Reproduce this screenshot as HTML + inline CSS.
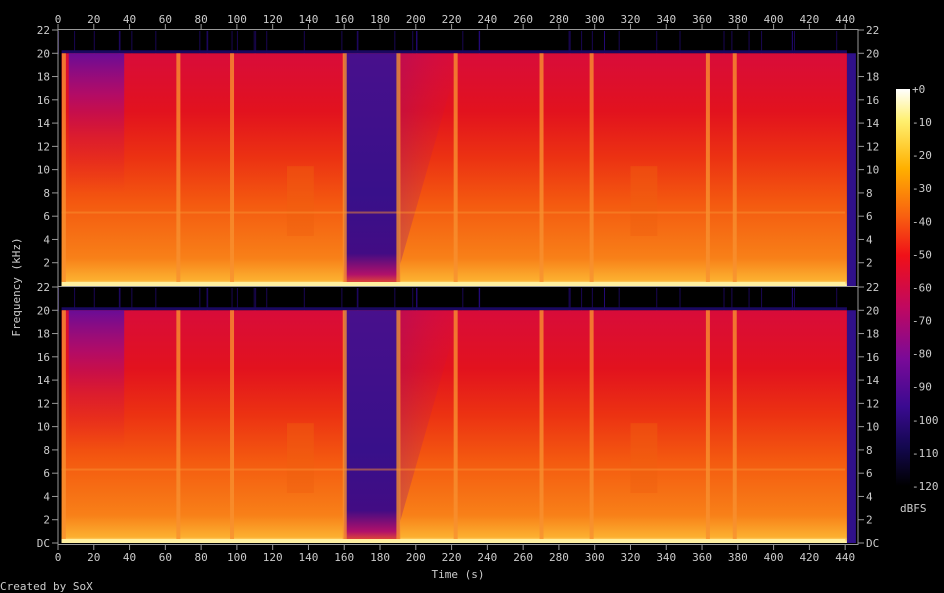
<!DOCTYPE html>
<html><head><meta charset="utf-8"><style>
html,body{margin:0;padding:0;background:#000;}
svg{display:block;font-family:"DejaVu Sans Mono","Liberation Mono",monospace;}
</style></head><body>
<svg id="s" width="944" height="593" xmlns="http://www.w3.org/2000/svg">
<defs>
<linearGradient id="main" x1="0" y1="0" x2="0" y2="1">
<stop offset="0" stop-color="#d80c3a"/>
<stop offset="0.25" stop-color="#e2121e"/>
<stop offset="0.45" stop-color="#ec3212"/>
<stop offset="0.65" stop-color="#f45a10"/>
<stop offset="0.88" stop-color="#f88018"/>
<stop offset="0.975" stop-color="#fcb030"/>
<stop offset="1" stop-color="#ffffc0"/>
</linearGradient>
<linearGradient id="purp" x1="0" y1="0" x2="0" y2="1">
<stop offset="0" stop-color="#6a0c96"/>
<stop offset="0.3" stop-color="#a00a80" stop-opacity="0.7"/>
<stop offset="0.6" stop-color="#c00c60" stop-opacity="0.3"/>
<stop offset="1" stop-color="#e0103a" stop-opacity="0"/>
</linearGradient>
<linearGradient id="diag" x1="0" y1="0" x2="1" y2="0">
<stop offset="0" stop-color="#8a0c80" stop-opacity="0.3"/>
<stop offset="1" stop-color="#c00c60" stop-opacity="0"/>
</linearGradient>
<linearGradient id="dark" x1="0" y1="0" x2="0" y2="1">
<stop offset="0" stop-color="#48108c"/>
<stop offset="0.6" stop-color="#38108a"/>
<stop offset="0.86" stop-color="#420c84"/>
<stop offset="0.95" stop-color="#b0106a"/>
<stop offset="1" stop-color="#f06020"/>
</linearGradient>
<linearGradient id="cb" x1="0" y1="0" x2="0" y2="1">
<stop offset="0" stop-color="#ffffff"/>
<stop offset="0.08" stop-color="#fff070"/>
<stop offset="0.2" stop-color="#ffb000"/>
<stop offset="0.32" stop-color="#f86010"/>
<stop offset="0.42" stop-color="#f01018"/>
<stop offset="0.55" stop-color="#c00860"/>
<stop offset="0.68" stop-color="#7a0a98"/>
<stop offset="0.8" stop-color="#3a0a90"/>
<stop offset="0.9" stop-color="#140850"/>
<stop offset="1" stop-color="#000000"/>
</linearGradient>
</defs>
<g id="g"></g>
</svg>
<script>
var g=document.getElementById('g'),h='';
function X(t){return 58+t*1.789;}
var chans=[30,287];
chans.forEach(function(y0){
  var ky=(256)/22; var y20=y0+2*ky, yb=y0+256;
  for(var i=0;i<45;i++){var t=(i*53.7+i*i*0.7)%440;h+='<rect x="'+X(t)+'" y="'+(y0+1)+'" width="1" height="'+(y20-y0)+'" fill="#2a0a8a" opacity="0.6"/>';}
  h+='<rect x="'+X(2)+'" y="'+(y20-3)+'" width="'+(X(441)-X(2))+'" height="3" fill="#1a0860"/>';
  h+='<rect x="'+X(2)+'" y="'+y20+'" width="'+(X(441)-X(2))+'" height="'+(yb-y20)+'" fill="url(#main)"/>';
  h+='<rect x="'+X(6)+'" y="'+y20+'" width="'+(X(37)-X(6))+'" height="'+((yb-y20)*0.6)+'" fill="url(#purp)"/>';
  h+='<polygon points="'+X(191)+','+y20+' '+X(225)+','+y20+' '+X(191)+','+(yb-20)+'" fill="url(#diag)"/>';
  h+='<rect x="'+X(160)+'" y="'+y20+'" width="'+(X(191)-X(160))+'" height="'+(yb-y20)+'" fill="url(#dark)"/>';
  h+='<rect x="'+X(441)+'" y="'+y20+'" width="'+(X(446)-X(441))+'" height="'+(yb-y20)+'" fill="#30108a"/>';
  [128,320].forEach(function(t){h+='<rect x="'+X(t)+'" y="'+(y0+ky*11.7)+'" width="'+(X(t+15)-X(t))+'" height="'+(ky*6)+'" fill="#f06010" opacity="0.45"/>';});
  h+='<rect x="'+X(2)+'" y="'+(y0+ky*15.6)+'" width="'+(X(440)-X(2))+'" height="2" fill="#f89030" opacity="0.5"/>';
  [3,67,97,160,190,222,270,298,363,378].forEach(function(t){h+='<rect x="'+(X(t)-1.5)+'" y="'+y20+'" width="4" height="'+(yb-y20)+'" fill="#f89030" opacity="0.8"/>';});
  h+='<rect x="'+X(2)+'" y="'+(yb-4)+'" width="'+(X(440)-X(2))+'" height="4" fill="#fff0a0"/>';
  for(var k=0;k<=22;k+=2){var y=y0+256-k*ky;
    if(y0==30&&k==0)continue;
    var lab=k==0?'DC':k;
    h+='<line x1="52" x2="58" y1="'+y+'" y2="'+y+'" stroke="#999"/><line x1="858" x2="864" y1="'+y+'" y2="'+y+'" stroke="#999"/>';
    h+='<text x="50" y="'+(y+4)+'" fill="#ccc" font-size="11" text-anchor="end">'+lab+'</text>';
    h+='<text x="866" y="'+(y+4)+'" fill="#ccc" font-size="11">'+lab+'</text>';}
});
h+='<rect x="58" y="29.5" width="800" height="515" fill="none" stroke="#999"/>';
h+='<line x1="58" x2="858" y1="286.5" y2="286.5" stroke="#999"/>';
for(var t=0;t<=440;t+=20){var x=X(t);
  h+='<line x1="'+x+'" x2="'+x+'" y1="24" y2="30" stroke="#999"/><line x1="'+x+'" x2="'+x+'" y1="544" y2="550" stroke="#999"/>';
  h+='<text x="'+x+'" y="23" fill="#ccc" font-size="11" text-anchor="middle">'+t+'</text>';
  h+='<text x="'+x+'" y="561" fill="#ccc" font-size="11" text-anchor="middle">'+t+'</text>';}
h+='<rect x="896" y="89" width="14" height="397" fill="url(#cb)"/>';
for(var d=0;d<=12;d++){var y=89+d*33.08;
  h+='<text x="912" y="'+(y+4)+'" fill="#ccc" font-size="11">'+(d==0?'+0':'-'+d*10)+'</text>';}
h+='<text x="900" y="512" fill="#ccc" font-size="11">dBFS</text>';
h+='<text x="458" y="578" fill="#ccc" font-size="11" text-anchor="middle">Time (s)</text>';
h+='<text x="0" y="590" fill="#ccc" font-size="11">Created by SoX</text>';
h+='<text transform="translate(20,287) rotate(-90)" fill="#ccc" font-size="11" text-anchor="middle">Frequency (kHz)</text>';
g.innerHTML=h;
</script>
</body></html>
